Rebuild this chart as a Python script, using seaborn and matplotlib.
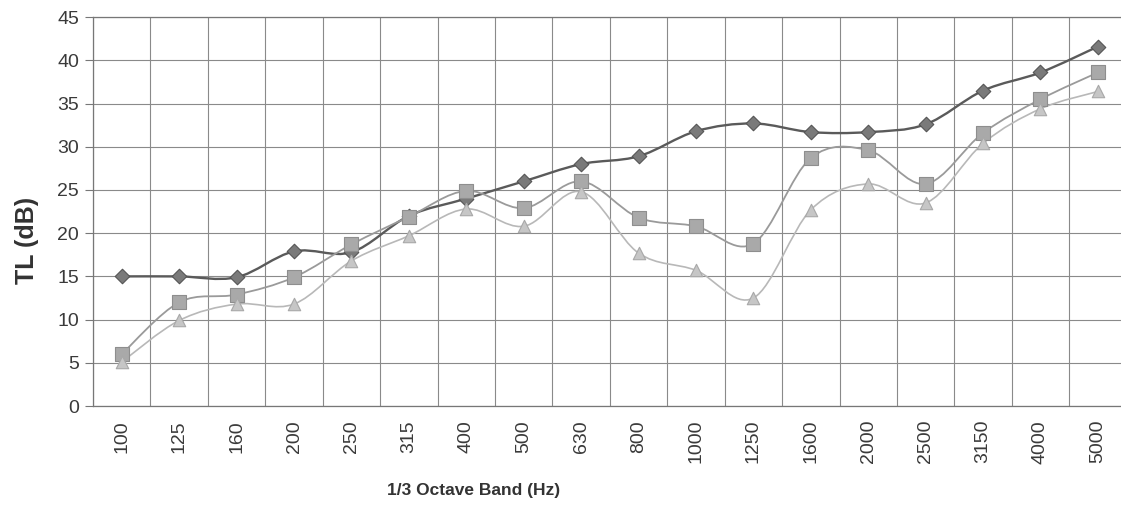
import numpy as np
import pandas as pd
import matplotlib
matplotlib.use('Agg')
import matplotlib.pyplot as plt
from matplotlib.path import Path
from matplotlib.patches import PathPatch
import seaborn as sns

# Data
bands = ['100', '125', '160', '200', '250', '315', '400', '500', '630',
         '800', '1000', '1250', '1600', '2000', '2500', '3150', '4000', '5000']
tl_diamond = [15.0, 15.0, 14.9, 17.9, 17.8, 22.0, 24.0, 26.0, 28.0,
              28.9, 31.8, 32.7, 31.7, 31.7, 32.6, 36.5, 38.6, 41.6]
tl_square = [6.0, 12.0, 12.9, 14.9, 18.7, 21.9, 24.9, 22.9, 26.0,
             21.8, 20.8, 18.8, 28.7, 29.6, 25.7, 31.6, 35.5, 38.6]
tl_triangle = [5.1, 9.9, 11.8, 11.8, 16.8, 19.7, 22.8, 20.8, 24.8,
               17.7, 15.7, 12.5, 22.7, 25.7, 23.5, 30.4, 34.4, 36.4]

series = {'Series 1': tl_diamond, 'Series 2': tl_square, 'Series 3': tl_triangle}
df = pd.concat([pd.DataFrame({'band': bands, 'TL': v, 'series': k})
                for k, v in series.items()], ignore_index=True)

line_colors = {'Series 1': '#5a5a5a', 'Series 2': '#9a9a9a', 'Series 3': '#b8b8b8'}
face_colors = {'Series 1': '#7a7a7a', 'Series 2': '#a9a9a9', 'Series 3': '#c6c6c6'}
edge_colors = {'Series 1': '#555555', 'Series 2': '#8e8e8e', 'Series 3': '#a8a8a8'}
markers = {'Series 1': 'D', 'Series 2': 's', 'Series 3': '^'}
sizes = {'Series 1': 55, 'Series 2': 110, 'Series 3': 80}
widths = {'Series 1': 1.7, 'Series 2': 1.3, 'Series 3': 1.2}

sns.set_style('white')
plt.rcParams['font.family'] = ['Liberation Sans', 'DejaVu Sans']

fig = plt.figure(figsize=(11.21, 5.05), dpi=100)
ax = fig.add_axes([0.083, 0.196, 0.922, 0.770])


def smooth_path(y):
    # Excel-style smoothed line: cubic Bezier through each point
    x = np.arange(len(y), dtype=float)
    y = np.asarray(y, dtype=float)
    verts = [(x[0], y[0])]
    codes = [Path.MOVETO]
    n = len(y)
    for i in range(n - 1):
        i0 = max(i - 1, 0)
        i3 = min(i + 2, n - 1)
        c1 = (x[i] + (x[i + 1] - x[i0]) / 6, y[i] + (y[i + 1] - y[i0]) / 6)
        c2 = (x[i + 1] - (x[i3] - x[i]) / 6, y[i + 1] - (y[i3] - y[i]) / 6)
        verts += [c1, c2, (x[i + 1], y[i + 1])]
        codes += [Path.CURVE4] * 3
    return Path(verts, codes)


for name, vals in series.items():
    ax.add_patch(PathPatch(smooth_path(vals), fill=False, edgecolor=line_colors[name],
                           lw=widths[name], zorder=3))

for name in series:
    sns.scatterplot(data=df[df['series'] == name], x='band', y='TL', ax=ax,
                    marker=markers[name], s=sizes[name], color=face_colors[name],
                    edgecolor=edge_colors[name], linewidth=0.8, zorder=4, legend=False)

ax.set_xlim(-0.5, len(bands) - 0.5)
ax.set_ylim(0, 45)
ax.set_yticks(np.arange(0, 46, 5))
ax.set_xticks(np.arange(len(bands)))
ax.set_xticklabels(bands, rotation=90)
ax.set_xticks(np.arange(-0.5, len(bands), 1), minor=True)

ax.grid(which='minor', axis='x', color='#8a8a8a', lw=0.8)
ax.grid(which='major', axis='y', color='#8a8a8a', lw=0.8)
ax.set_axisbelow(True)

ax.tick_params(axis='x', which='major', length=0, pad=10, labelsize=14, labelcolor='#3a3a3a')
ax.tick_params(axis='x', which='minor', length=6, width=0.8, color='#777777', direction='out')
ax.tick_params(axis='y', length=6, width=0.8, color='#777777', direction='out', pad=4,
               labelsize=14, labelcolor='#3a3a3a', left=True)

for s in ['left', 'bottom', 'top']:
    ax.spines[s].set_color('#777777')
    ax.spines[s].set_linewidth(0.9)
ax.spines['right'].set_visible(False)

ax.set_xlabel('1/3 Octave Band (Hz)', fontsize=12.5, fontweight='bold', color='#333333')
ax.set_ylabel('TL (dB)', fontsize=18, fontweight='bold', color='#333333')
ax.xaxis.set_label_coords(0.368, -0.197)
ax.yaxis.set_label_coords(-0.052, 0.425)

fig.savefig('out.png', dpi=100)
